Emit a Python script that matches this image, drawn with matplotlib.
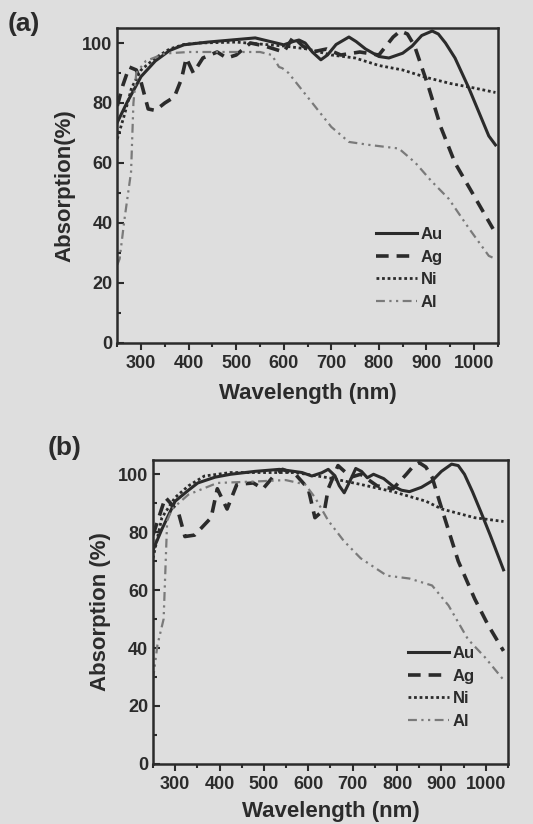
import numpy as np
import matplotlib
matplotlib.use('Agg')
import matplotlib.pyplot as plt
from matplotlib.ticker import MultipleLocator

plt.rcParams['font.family'] = ['Liberation Sans', 'DejaVu Sans']
plt.rcParams['font.weight'] = 'bold'

ink = '#2b2b2b'
paper = '#dedede'

# panel (a)
au_a_x = [250, 270, 300, 330, 360, 390, 440, 490, 540, 600, 620, 632, 645, 660, 678, 692, 710, 737, 752, 772, 800, 821, 850, 870, 890, 912, 925, 940, 960, 989, 1010, 1031, 1045]
au_a_y = [73.5, 80, 88.8, 94, 97.5, 99.4, 100.3, 101, 101.7, 99.4, 100.5, 101, 100, 97, 94.4, 96, 99.5, 102, 100.5, 98, 95.5, 95, 96.6, 99, 102.5, 104, 103, 100, 95, 85, 77, 69, 66]
ag_a_x = [250, 262, 275, 290, 300, 315, 330, 350, 370, 385, 395, 410, 430, 460, 480, 500, 530, 560, 600, 620, 640, 660, 690, 720, 760, 800, 815, 830, 845, 860, 875, 890, 905, 930, 960, 1000, 1040]
ag_a_y = [79, 86, 92, 91, 87, 78, 77.5, 80, 82, 88, 95, 90, 95, 97, 95, 96, 100, 99, 97, 102, 99, 97, 98, 96, 97, 96, 99, 102, 104, 103, 99, 92, 85, 72, 60, 49, 38]
ni_a_x = [250, 265, 280, 300, 330, 360, 390, 420, 500, 600, 650, 700, 750, 800, 850, 900, 950, 1000, 1045]
ni_a_y = [68, 76, 85, 91, 95, 98, 99.5, 100, 100.3, 99, 98, 96, 95, 92.5, 91, 88.5, 86.5, 85, 83.5]
al_a_x = [250, 255, 265, 279, 284, 290, 310, 350, 400, 450, 500, 550, 575, 590, 597, 610, 650, 700, 737, 780, 842, 877, 910, 947, 990, 1031, 1045]
al_a_y = [26, 28, 41, 57, 80, 90, 94, 96.5, 97, 97, 97, 97, 96, 92, 91.6, 90, 82, 72, 67, 66, 64.8, 60, 54, 48, 38, 29, 28]

# panel (b)
au_b_x = [250, 270, 300, 330, 351, 390, 425, 480, 535, 586, 608, 630, 645, 660, 670, 681, 695, 707, 720, 733, 747, 770, 790, 810, 828, 855, 879, 900, 923, 938, 952, 970, 989, 1010, 1040]
au_b_y = [73.8, 81, 90.7, 94.5, 97, 99, 100, 101, 101.7, 100.6, 99.4, 100.5, 101.7, 99.5, 96, 93.6, 98, 102, 101, 98.8, 100, 98.5, 96, 94.5, 94, 95.5, 97.7, 101, 103.5, 103, 100, 94, 87, 79, 67]
ag_b_x = [250, 278, 307, 322, 344, 381, 395, 417, 439, 476, 498, 520, 542, 571, 600, 615, 637, 645, 667, 696, 718, 755, 791, 821, 835, 850, 865, 879, 901, 938, 975, 1005, 1040]
ag_b_y = [79, 92, 87, 78.5, 79, 85, 95, 88, 96.5, 97, 95, 99, 101.7, 100, 95, 85, 88, 95, 103, 99, 100, 96, 95, 100, 102.5, 104, 102.5, 99, 88, 70, 57, 48, 39]
ni_b_x = [250, 270, 300, 330, 366, 425, 500, 571, 645, 718, 791, 865, 901, 975, 1040]
ni_b_y = [71, 85, 92, 96, 99.4, 100.6, 100.6, 100.6, 98.8, 96.5, 94, 90.7, 88, 85, 83.7]
al_b_x = [250, 260, 274, 282, 293, 330, 395, 480, 549, 593, 615, 645, 680, 718, 777, 828, 879, 916, 960, 997, 1040]
al_b_y = [29, 41, 50, 84, 88, 93, 97, 97.5, 98, 96.5, 92, 84, 77, 71, 65, 64, 61.6, 54.7, 43, 37, 29]

labels = ['Au', 'Ag', 'Ni', 'Al']

fig = plt.figure(figsize=(5.33, 8.24), dpi=100, facecolor=paper)


def panel(ax, data, ylabel, tag, tagpos, legpos, xpad):
    ax.set_facecolor(paper)
    (aux, auy), (agx, agy), (nix, niy), (alx, aly) = data
    ax.plot(aux, auy, '-', color=ink, lw=2.2, solid_joinstyle='round', label=labels[0])
    ax.plot(agx, agy, color=ink, lw=2.6, dashes=(3.5, 2.2), label=labels[1])
    ax.plot(nix, niy, color=ink, lw=2.0, dashes=(1.0, 1.0), label=labels[2])
    ax.plot(alx, aly, color='#7a7a7a', lw=1.6, dashes=(4, 2, 1, 2, 1, 2), label=labels[3])
    ax.set_xlim(250, 1050)
    ax.set_ylim(0, 105)
    ax.xaxis.set_minor_locator(MultipleLocator(50))
    ax.yaxis.set_major_locator(MultipleLocator(20))
    ax.yaxis.set_minor_locator(MultipleLocator(10))
    ax.set_xticks(range(300, 1001, 100))
    ax.tick_params(axis='x', which='both', direction='out', labelsize=13, colors=ink, width=1.5)
    ax.tick_params(axis='y', which='both', direction='in', labelsize=13, colors=ink, width=1.5)
    ax.tick_params(which='major', length=5)
    ax.tick_params(which='minor', length=3)
    for s in ax.spines.values():
        s.set_linewidth(1.8)
        s.set_color(ink)
    ax.set_xlabel('Wavelength (nm)', fontsize=16, fontweight='bold', color=ink, labelpad=xpad)
    ax.set_ylabel(ylabel, fontsize=16, fontweight='bold', color=ink, labelpad=5)
    for t in ax.get_xticklabels() + ax.get_yticklabels():
        t.set_fontweight('bold')
    fig.text(tagpos[0], tagpos[1], tag, fontsize=19, fontweight='bold', color=ink)
    leg = ax.legend(loc='upper left', bbox_to_anchor=legpos, frameon=False,
                    handlelength=2.5, handletextpad=0.2, labelspacing=0.45,
                    prop={'weight': 'bold', 'size': 12})
    for t in leg.get_texts():
        t.set_color(ink)


ax1 = fig.add_axes([0.22, 0.584, 0.714, 0.382])
panel(ax1, [(au_a_x, au_a_y), (ag_a_x, ag_a_y), (ni_a_x, ni_a_y), (al_a_x, al_a_y)],
      'Absorption(%)', '(a)', (0.015, 0.962), (0.64, 0.415), 8)

ax2 = fig.add_axes([0.287, 0.073, 0.666, 0.369])
panel(ax2, [(au_b_x, au_b_y), (ag_b_x, ag_b_y), (ni_b_x, ni_b_y), (al_b_x, al_b_y)],
      'Absorption (%)', '(b)', (0.09, 0.448), (0.675, 0.436), 6)

fig.savefig('out.png', dpi=100, facecolor=paper)
